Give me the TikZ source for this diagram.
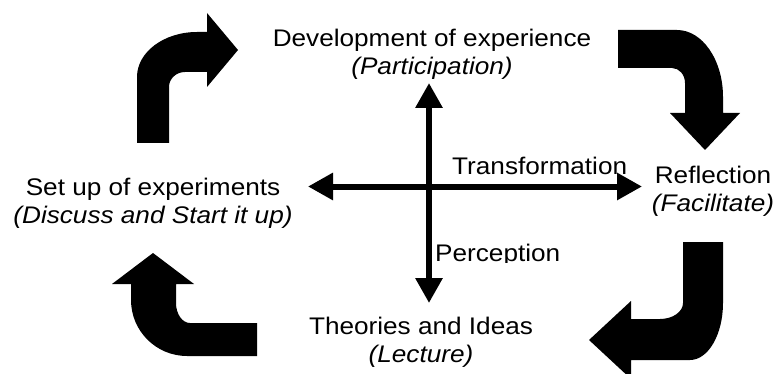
\documentclass[tikz,border=0pt]{standalone}
\usepackage{fontspec}
\setmainfont{Liberation Sans}[FakeStretch=1.09]
\usetikzlibrary{arrows.meta}

\begin{document}
\begin{tikzpicture}[x=1pt, y=-1pt,
    txt/.style={inner sep=0pt, align=center, font=\fontsize{24}{27.5}\selectfont},
    bent/.style={fill=black},
    axis/.style={line width=6pt, {Triangle[width=26pt,length=25pt]}-{Triangle[width=26pt,length=25pt]}}]
  \useasboundingbox (0,0) rectangle (778,374);
  \clip (0,0) rectangle (778,374);

  % the four stages
  \node[txt] (dev) at (432,54.5) {Development of experience\\\textit{(Participation)}};
  \node[txt] (setup) at (153,203.5) {Set up of experiments\\\textit{(Discuss and Start it up)}};
  \node[txt] (refl) at (713,191.5) {Reflection\\\textit{(Facilitate)}};
  \node[txt] (theo) at (421,342.5) {Theories and Ideas\\\textit{(Lecture)}};

  % axis labels
  \node[txt, anchor=base west] (trans) at (452,175) {Transformation};
  \begin{scope}
    \clip (432,230) rectangle (600,262);
    \node[txt, anchor=base west] (perc) at (435,261) {Perception};
  \end{scope}

  % the cross
  \coordinate (top) at (429,83);
  \coordinate (bottom) at (429,303);
  \coordinate (left) at (308,186.5);
  \coordinate (right) at (642,186.5);
  \draw[axis] (top) -- (bottom);
  \draw[axis] (left) -- (right);

  % bent arrows round the cycle
  \fill[bent] (137,143) -- (137,77) arc[start angle=180, end angle=270, x radius=60, y radius=45]
    -- (207,32) -- (207,13) -- (238,50) -- (207,87) -- (207,72) -- (185,72)
    arc[start angle=270, end angle=180, x radius=16, y radius=15] -- (169,143) -- cycle;

  \fill[bent] (618,30) -- (677,30) arc[start angle=270, end angle=360, x radius=46, y radius=67]
    -- (723,113) -- (740,113) -- (705,150) -- (670,113) -- (685,113) -- (685,83)
    arc[start angle=0, end angle=-90, x radius=13, y radius=15] -- (618,68) -- cycle;

  \fill[bent] (683,242) -- (723,242) -- (723,303) arc[start angle=0, end angle=90, x radius=33, y radius=57]
    -- (631,360) -- (631,379) -- (589,340) -- (631,301) -- (631,319) -- (660,319)
    arc[start angle=90, end angle=0, x radius=23, y radius=16] -- cycle;

  \fill[bent] (153,253) -- (194,284) -- (176,284) -- (176,303)
    arc[start angle=180, end angle=90, x radius=14, y radius=20] -- (257,323) -- (257,356) -- (187,356)
    arc[start angle=90, end angle=180, x radius=56, y radius=56] -- (131,284) -- (112,284) -- cycle;
\end{tikzpicture}
\end{document}
